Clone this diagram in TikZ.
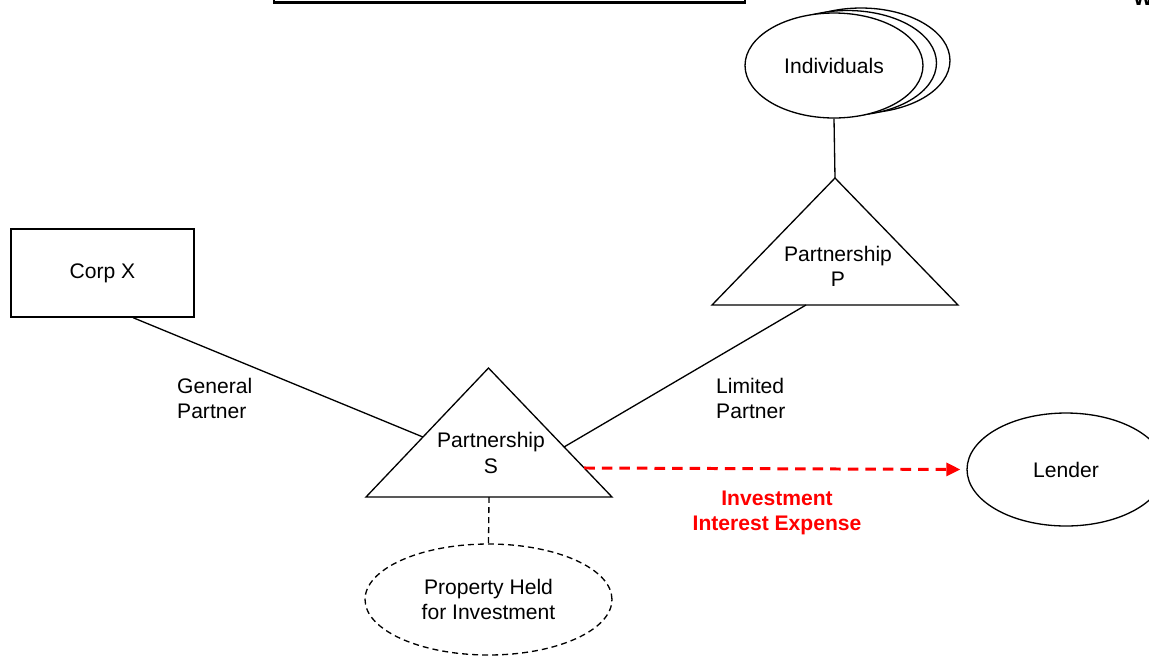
\documentclass[tikz,border=0pt]{standalone}
\usepackage{fontspec}
\setmainfont{Liberation Sans}
\usepackage{xcolor}
\usetikzlibrary{shapes.geometric,shadows,calc,arrows.meta}

\begin{document}
\begin{tikzpicture}[x=0.02cm, y=-0.02cm,
        every node/.style={font=\fontsize{12}{14.4}\selectfont, align=center},
        line/.style={draw, line width=0.75pt},
        oval/.style={ellipse, draw, line width=0.75pt, fill=white, inner sep=0pt}]
        \useasboundingbox (0,0) rectangle (1149,657);

        \node (titlebox) [rectangle, draw, line width=1.2pt, minimum width=9.42cm, minimum height=0.82cm] at (509.5,-18) {};
        \node (corner) [anchor=base, font=\fontsize{12}{14.4}\selectfont\bfseries] at (1143,5) {W};

        \node (indiv) [oval, minimum width=3.56cm, minimum height=2.1cm,
            double copy shadow={shadow xshift=0.27cm, shadow yshift=0.05cm, draw=black, fill=white, line width=0.75pt}] at (834,65.5) {Individuals};
        \node (corpx) [rectangle, draw, line width=0.75pt, minimum width=3.66cm, minimum height=1.76cm] at (102.5,273) {Corp X};
        \node (property) [oval, dashed, dash pattern=on 3.4pt off 2.3pt, minimum width=4.94cm, minimum height=2.22cm] at (488.5,599.5) {Property Held\\for Investment};
        \node (lender) [oval, minimum width=3.96cm, minimum height=2.26cm] at (1066,469.5) {Lender};

        % partnership P
        \coordinate (Ptop) at (835,178);
        \coordinate (Pleft) at (712,305);
        \coordinate (Pright) at (958,305);
        \draw[line, line join=miter] (Ptop) -- (Pright) -- (Pleft) -- cycle;
        \node (partP) at (838,266) {Partnership\\P};

        % partnership S
        \coordinate (Stop) at (488.5,368);
        \coordinate (Sleft) at (366,497);
        \coordinate (Sright) at (612,497);
        \draw[line, line join=miter] (Stop) -- (Sright) -- (Sleft) -- cycle;
        \node (partS) at (491,453) {Partnership\\S};

        \coordinate (gpEnd) at ($(Stop)!0.535!(Sleft)$);
        \coordinate (lpStart) at ($(Pleft)!0.382!(Pright)$);
        \coordinate (lpEnd) at ($(Stop)!0.612!(Sright)$);
        \coordinate (loanStart) at ($(Stop)!0.775!(Sright)$);
        \coordinate (holdStart) at ($(Sleft)!0.5!(Sright)$);

        \draw[line] (indiv.south) -- (Ptop);
        \draw[line] ($(corpx.south)+(30.5,0)$) -- (gpEnd);
        \draw[line] (lpStart) -- (lpEnd);
        \draw[line, dashed, dash pattern=on 3.4pt off 2.3pt] (holdStart) -- (property.north);
        \draw[red, line width=1.7pt, dash pattern=on 6pt off 4pt, shorten >=0.12cm,
            -{Triangle[length=0.28cm, width=0.26cm]}] (loanStart) -- (lender.west);

        \node (gpLabel) [anchor=west, align=left] at (171,398.5) {General\\Partner};
        \node (lpLabel) [anchor=west, align=left] at (710,398.5) {Limited\\Partner};
        \node (loanLabel) [text=red, font=\fontsize{12}{14.4}\selectfont\bfseries] at (777,513) {Investment\\Interest Expense};
    \end{tikzpicture}
\end{document}
